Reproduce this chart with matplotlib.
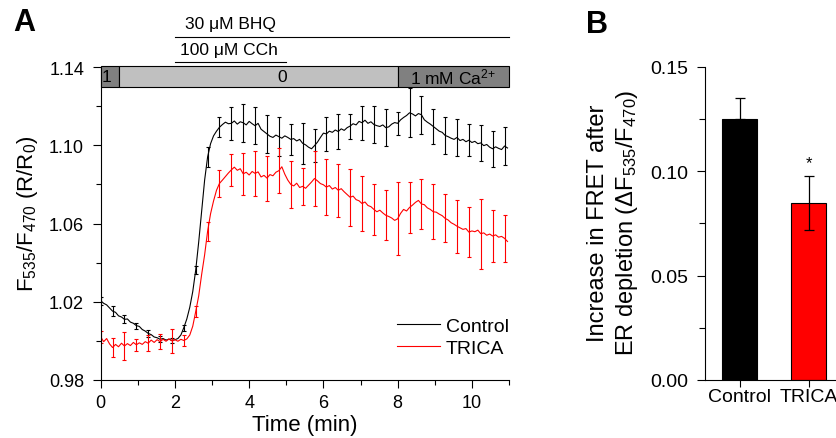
import numpy as np
import matplotlib
matplotlib.use("Agg")
import matplotlib.pyplot as plt
from matplotlib.patches import Rectangle
from matplotlib.transforms import blended_transform_factory
from matplotlib.ticker import MultipleLocator, FormatStrFormatter

plt.rcParams['font.family'] = ['Liberation Sans', 'DejaVu Sans']
plt.rcParams['mathtext.fontset'] = 'custom'
plt.rcParams['mathtext.rm'] = 'Liberation Sans'
plt.rcParams['mathtext.it'] = 'Liberation Sans:italic'
plt.rcParams['mathtext.bf'] = 'Liberation Sans:bold'

# --- panel A : FRET ratio trace, one sample every 0.08 min --- #
DT = 0.08
ERR_STEP = 4   # an error bar on every 4th sample

control = [
    1.0205, 1.0192, 1.0184, 1.0168, 1.0152, 1.0146, 1.0128, 1.0122, 1.0110, 1.0112,
    1.0096, 1.0090, 1.0078, 1.0074, 1.0058, 1.0050, 1.0038, 1.0032, 1.0020, 1.0016,
    1.0008, 1.0012, 1.0004, 1.0009, 1.0002, 1.0006,
    1.0012, 1.0030, 1.0068, 1.0112, 1.0172, 1.0252, 1.0362, 1.0505, 1.0665, 1.0822,
    1.0940, 1.1008, 1.1048, 1.1072, 1.1092, 1.1106, 1.1118, 1.1110,
    1.1112, 1.1124, 1.1108, 1.1120, 1.1115, 1.1104, 1.1122, 1.1110, 1.1100, 1.1112,
    1.1082, 1.1070, 1.1058, 1.1046, 1.1040, 1.1052, 1.1044, 1.1036, 1.1048, 1.1040,
    1.1030, 1.1034, 1.1022, 1.1030, 1.1010, 1.1002, 1.0990, 1.0982, 1.0998, 1.1016,
    1.1040, 1.1062, 1.1058, 1.1072, 1.1066, 1.1078, 1.1070, 1.1084, 1.1076, 1.1090,
    1.1098, 1.1110, 1.1104, 1.1122, 1.1115, 1.1128, 1.1112, 1.1120, 1.1106, 1.1100,
    1.1096, 1.1104, 1.1090, 1.1094, 1.1108, 1.1116, 1.1112, 1.1130, 1.1142, 1.1152,
    1.1166, 1.1160, 1.1150, 1.1162, 1.1156, 1.1130, 1.1118, 1.1108, 1.1096, 1.1084,
    1.1072, 1.1066, 1.1050, 1.1044, 1.1036, 1.1030, 1.1040, 1.1024, 1.1030, 1.1018,
    1.1026, 1.1014, 1.1020, 1.1008, 1.1012, 1.0998, 1.1004, 1.0990, 1.0982, 1.0992,
    1.0984, 1.0978, 1.0996, 1.0986,
]

trica = [
    1.0020, 0.9996, 1.0012, 0.9984, 0.9966, 0.9982, 0.9970, 0.9988, 0.9974, 0.9986,
    0.9976, 0.9992, 0.9980, 0.9990, 0.9982, 0.9996, 0.9988, 1.0004, 0.9992, 1.0006,
    0.9996, 1.0008, 0.9998, 1.0010, 1.0000, 1.0006,
    0.9998, 1.0008, 1.0002, 1.0010, 1.0030, 1.0075, 1.0150, 1.0230, 1.0340, 1.0440,
    1.0560, 1.0650, 1.0715, 1.0770, 1.0805, 1.0822, 1.0840, 1.0858,
    1.0874, 1.0888, 1.0872, 1.0880, 1.0854, 1.0862, 1.0848, 1.0866, 1.0856, 1.0864,
    1.0838, 1.0846, 1.0832, 1.0850, 1.0844, 1.0862, 1.0870, 1.0890, 1.0852, 1.0822,
    1.0800, 1.0792, 1.0806, 1.0784, 1.0790, 1.0780, 1.0796, 1.0812, 1.0830, 1.0818,
    1.0804, 1.0798, 1.0786, 1.0794, 1.0776, 1.0784, 1.0770, 1.0778, 1.0762, 1.0748,
    1.0734, 1.0740, 1.0722, 1.0716, 1.0702, 1.0710, 1.0692, 1.0686, 1.0672, 1.0660,
    1.0668, 1.0654, 1.0642, 1.0636, 1.0628, 1.0616, 1.0624, 1.0652, 1.0672, 1.0664,
    1.0682, 1.0694, 1.0708, 1.0718, 1.0700, 1.0696, 1.0680, 1.0672, 1.0660, 1.0658,
    1.0648, 1.0640, 1.0626, 1.0618, 1.0604, 1.0596, 1.0586, 1.0578, 1.0570, 1.0574,
    1.0556, 1.0562, 1.0558, 1.0566, 1.0548, 1.0552, 1.0540, 1.0546, 1.0536, 1.0542,
    1.0530, 1.0534, 1.0524, 1.0508,
]

control_err = [
    0.0020, 0.0025, 0.0020, 0.0015, 0.0020, 0.0015, 0.0012, 0.0015, 0.0022, 0.0050,
    0.0050, 0.0085, 0.0098, 0.0094, 0.0098, 0.0098, 0.0080, 0.0104, 0.0083, 0.0087,
    0.0088, 0.0064, 0.0088, 0.0094, 0.0094, 0.0060, 0.0125, 0.0098, 0.0090, 0.0094,
    0.0094, 0.0083, 0.0094, 0.0092, 0.0096,
]

trica_err = [
    0.0030, 0.0050, 0.0070, 0.0030, 0.0040, 0.0040, 0.0060, 0.0030, 0.0030, 0.0050,
    0.0070, 0.0080, 0.0106, 0.0115, 0.0115, 0.0115, 0.0120, 0.0094, 0.0140, 0.0145,
    0.0136, 0.0145, 0.0140, 0.0130, 0.0128, 0.0187, 0.0132, 0.0130, 0.0140, 0.0123,
    0.0136, 0.0128, 0.0179, 0.0132, 0.0119,
]

# solution bar over the trace
seg_edges = [0, 0.5, 8, 11]
seg_labels = ['1', '0', r'1 mM Ca$^{\mathregular{2{+}}}$']

# --- panel B : summary --- #
groups = ['Control', 'TRICA']
means = [0.1248, 0.0846]
sems = [0.0102, 0.0130]

t = np.arange(len(control)) * DT

fig = plt.figure(figsize=(8.37, 4.39), dpi=100)
W, H = 837, 439

axA = fig.add_axes([100.7 / W, 1 - 381 / H, 408.3 / W, 313 / H])
axA.plot(t, control, color='black', lw=0.8, label='Control')
axA.errorbar(t[::ERR_STEP], control[::ERR_STEP], yerr=control_err, fmt='none',
             ecolor='black', elinewidth=0.8, capsize=1.6, capthick=0.8)
axA.plot(t, trica, color='#ff0000', lw=0.8, label='TRICA')
axA.errorbar(t[::ERR_STEP], trica[::ERR_STEP], yerr=trica_err, fmt='none',
             ecolor='#ff0000', elinewidth=0.8, capsize=1.6, capthick=0.8)

axA.set_xlim(0, 11)
axA.set_ylim(0.98, 1.14)
axA.set_xticks([0, 2, 4, 6, 8, 10])
axA.xaxis.set_minor_locator(MultipleLocator(1))
axA.set_yticks([0.98, 1.02, 1.06, 1.10, 1.14])
axA.yaxis.set_minor_locator(MultipleLocator(0.02))
axA.yaxis.set_major_formatter(FormatStrFormatter('%.2f'))
for s in ['top', 'right']:
    axA.spines[s].set_visible(False)
for s in ['left', 'bottom']:
    axA.spines[s].set_linewidth(0.8)
axA.tick_params(which='major', direction='out', length=6, width=0.8, labelsize=13)
axA.tick_params(which='minor', direction='out', length=3.5, width=0.8)
axA.tick_params(axis='y', pad=6)
axA.tick_params(axis='x', pad=4)

axA.set_xlabel('Time (min)', fontsize=16, va='center')
axA.xaxis.set_label_coords(0.5, (381 - 426) / 313)
axA.set_ylabel(r'F$_{535}$/F$_{470}$ (R/R$_0$)', fontsize=16, va='center')
axA.yaxis.set_label_coords((28 - 100.7) / 408.3, (381 - 214) / 313)

axA.legend(loc='upper left', bbox_to_anchor=((397 - 100.7) / 408.3, (381 - 318) / 313),
           frameon=False, fontsize=14, handlelength=2.2, handletextpad=0.3,
           borderpad=0, borderaxespad=0, labelspacing=0.25)

# solution bar and drug lines above the axes
tr = blended_transform_factory(axA.transData, axA.transAxes)
bar_lo, bar_hi = (381 - 88.3) / 313, (381 - 67.3) / 313
seg_fill = ['#808080', '#c0c0c0', '#808080']
seg_text_x = [0.15, 4.88, 9.5]
for i in range(len(seg_labels)):
    axA.add_patch(Rectangle((seg_edges[i], bar_lo), seg_edges[i + 1] - seg_edges[i],
                            bar_hi - bar_lo, transform=tr, facecolor=seg_fill[i],
                            edgecolor='black', lw=0.8, clip_on=False, zorder=5))
    axA.text(seg_text_x[i], (bar_lo + bar_hi) / 2, seg_labels[i], transform=tr,
             ha='center', va='center', fontsize=12.5, zorder=6)

axA.plot([2, 11], [(381 - 38.3) / 313] * 2, transform=tr, color='black', lw=0.8, clip_on=False)
axA.text(3.5, (381 - 24) / 313, '30 \u03bcM BHQ', transform=tr, ha='center', va='center', fontsize=12.5)
axA.plot([2, 5], [(381 - 62.7) / 313] * 2, transform=tr, color='black', lw=0.8, clip_on=False)
axA.text(3.45, (381 - 51) / 313, '100 \u03bcM CCh', transform=tr, ha='center', va='center', fontsize=12.5)

# --- panel B --- #
axB = fig.add_axes([705 / W, 1 - 381 / H, 132 / W, 313.3 / H])
x = np.arange(len(groups))
axB.bar(x, means, width=0.507, color=['black', '#ff0000'], edgecolor='black', lw=0.8, zorder=2)
axB.errorbar(x[:1], means[:1], yerr=[[0], sems[:1]], fmt='none', ecolor='black',
             elinewidth=0.9, capsize=3.5, capthick=0.9, zorder=3)
axB.errorbar(x[1:], means[1:], yerr=sems[1:], fmt='none', ecolor='black',
             elinewidth=0.9, capsize=3.5, capthick=0.9, zorder=3)
axB.text(x[1], means[1] + sems[1] + 0.003, '*', ha='center', va='bottom', fontsize=12)
axB.set_xlim(-0.507, 1.406)
axB.set_ylim(0, 0.15)
axB.set_xticks(x)
axB.set_xticklabels(groups)
axB.set_yticks([0, 0.05, 0.10, 0.15])
axB.yaxis.set_minor_locator(MultipleLocator(0.025))
axB.yaxis.set_major_formatter(FormatStrFormatter('%.2f'))
for s in ['top', 'right']:
    axB.spines[s].set_visible(False)
for s in ['left', 'bottom']:
    axB.spines[s].set_linewidth(0.8)
axB.tick_params(which='major', direction='out', length=6, width=0.8, labelsize=14)
axB.tick_params(which='minor', direction='out', length=4, width=0.8)
axB.tick_params(axis='y', pad=6)
axB.tick_params(axis='x', length=5, pad=1)
axB.set_ylabel('Increase in FRET after\nER depletion ($\\Delta$F$_{535}$/F$_{470}$)',
               fontsize=17, va='center', linespacing=1.3)
axB.yaxis.set_label_coords((613.5 - 705) / 132, (381 - 223) / 313.3)

fig.text(24 / W, 1 - 23 / H, 'A', fontsize=22, fontweight='bold', ha='center', va='center')
fig.text(597 / W, 1 - 25 / H, 'B', fontsize=22, fontweight='bold', ha='center', va='center')

fig.savefig('out.png', dpi=100)
